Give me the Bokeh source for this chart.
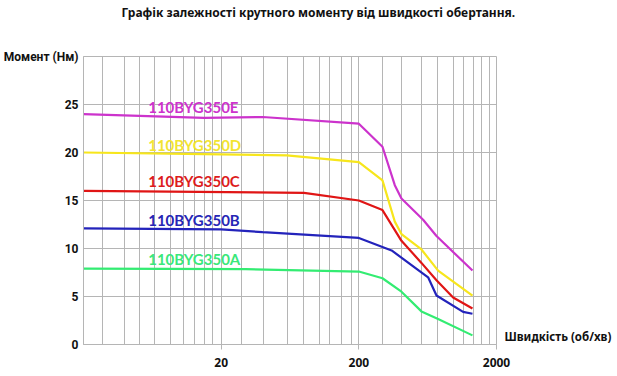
from bokeh.plotting import figure
from bokeh.models import FixedTicker, Label, Range1d, PrintfTickFormatter, LinearAxis, LogAxis
from bokeh.embed import file_html
from bokeh.resources import INLINE

title_text = "Графік залежності крутного моменту від швидкості обертання."
y_title = "Момент (Нм)"
x_title = "Швидкість (об/хв)"

x_ticks = [20, 200, 2000]
y_ticks = [0, 5, 10, 15, 20, 25]
y_grid = [0, 5, 10, 15, 20, 25, 30]
x_grid = [2.76, 3.94, 5.13, 6.57, 8.51, 10.6, 12.7, 15.2, 17.2, 20,
          28.3, 40.8, 61.1, 79.9, 102.8, 123, 149.6, 177, 200,
          295, 408, 570, 741, 980, 1158, 1352, 1556, 1789, 2000]

names = ["110BYG350E", "110BYG350D", "110BYG350C", "110BYG350B", "110BYG350A"]

e_rpm = [2, 15, 40, 200, 297, 365, 408, 586, 733, 1338]
e_nm = [24.0, 23.6, 23.7, 23.0, 20.6, 16.6, 15.2, 13.0, 11.3, 7.7]

d_rpm = [2, 20, 60, 200, 297, 365, 408, 570, 753, 1338]
d_nm = [20.0, 19.8, 19.7, 19.0, 17.1, 12.8, 11.5, 9.9, 7.7, 5.1]

c_rpm = [2, 80, 200, 297, 408, 570, 733, 968, 1338]
c_nm = [16.0, 15.8, 15.0, 14.0, 10.8, 8.5, 6.7, 4.9, 3.75]

b_rpm = [2, 20, 40, 200, 346, 637, 733, 1144, 1338]
b_nm = [12.1, 12.0, 11.7, 11.1, 9.8, 7.0, 5.1, 3.4, 3.2]

a_rpm = [2, 30, 200, 297, 408, 570, 753, 1338]
a_nm = [7.9, 7.85, 7.6, 6.9, 5.5, 3.45, 2.65, 0.95]

label_y = [24.7, 20.8, 17.0, 13.0, 8.9]
label_x = 5.9
x_title_y = 0.8
y_title_y = 30
title_x = 101.6

line_colors = ["#cc33cc", "#f7e61c", "#e01515", "#2323bb", "#33ec72"]
label_colors = ["#cc33cc", "#f2e431", "#dd1c1c", "#2626b5", "#3ae87a"]

series = [(e_rpm, e_nm), (d_rpm, d_nm), (c_rpm, c_nm), (b_rpm, b_nm), (a_rpm, a_nm)]

p = figure(width=616, height=376, x_axis_type="log",
           x_range=Range1d(2, 2000), y_range=Range1d(0, 30),
           output_backend="svg", toolbar_location=None,
           min_border_left=82, min_border_right=120,
           min_border_top=55, min_border_bottom=32)
p.background_fill_color = "white"
p.border_fill_color = "white"
p.outline_line_color = "#b5b5b5"
p.outline_line_width = 1

bottom_axis = p.below[0]
left_axis = p.left[0]

bottom_axis.ticker = FixedTicker(ticks=x_ticks)
bottom_axis.formatter = PrintfTickFormatter(format="%d")
left_axis.ticker = FixedTicker(ticks=y_ticks + [y_title_y])
left_axis.major_label_overrides = {y_title_y: y_title}
p.xgrid.ticker = FixedTicker(ticks=x_grid)
p.ygrid.ticker = FixedTicker(ticks=y_grid)
p.grid.grid_line_color = "#b5b5b5"
p.grid.grid_line_width = 1

for ax in (bottom_axis, left_axis):
    ax.axis_line_color = "#b5b5b5"
    ax.major_tick_line_color = "#b5b5b5"
    ax.minor_tick_line_color = None
    ax.minor_tick_out = 0
    ax.minor_tick_in = 0
    ax.major_tick_in = 0
    ax.major_label_text_font_style = "bold"
    ax.major_label_text_color = "#111111"
bottom_axis.major_label_text_font = "Noto Sans"
bottom_axis.major_label_text_font_size = "12px"
bottom_axis.major_tick_out = 5
bottom_axis.major_label_standoff = 8
left_axis.major_label_text_font = "Roboto"
left_axis.major_label_text_font_size = "12px"
left_axis.major_tick_out = 0
left_axis.major_label_standoff = 5

title_axis = LogAxis(ticker=FixedTicker(ticks=[title_x]),
                     major_label_overrides={title_x: title_text},
                     axis_line_color=None, major_tick_line_color=None,
                     minor_tick_line_color=None, major_tick_out=0,
                     major_tick_in=0, minor_tick_out=0, minor_tick_in=0,
                     major_label_standoff=36,
                     major_label_text_font="Noto Sans",
                     major_label_text_font_style="bold",
                     major_label_text_font_size="12px",
                     major_label_text_color="#111111")
p.add_layout(title_axis, "above")

right_axis = LinearAxis(ticker=FixedTicker(ticks=[x_title_y]),
                        major_label_overrides={x_title_y: x_title},
                        axis_line_color=None, major_tick_line_color=None,
                        minor_tick_line_color=None, major_tick_out=0,
                        major_tick_in=0, minor_tick_out=0, minor_tick_in=0,
                        major_label_standoff=8,
                        major_label_text_font="Noto Sans",
                        major_label_text_font_style="bold",
                        major_label_text_font_size="11.5px",
                        major_label_text_color="#111111")
p.add_layout(right_axis, "right")

for (xs, ys), col in zip(series, line_colors):
    p.line(xs, ys, line_color=col, line_width=2.2)

for name, ly, col in zip(names, label_y, label_colors):
    p.add_layout(Label(x=label_x, y=ly, text=name, text_color=col,
                       text_font="Lato", text_font_style="bold",
                       text_font_size="15px", text_baseline="middle",
                       text_align="left"))

open("out.html", "w").write(file_html(p, INLINE))
